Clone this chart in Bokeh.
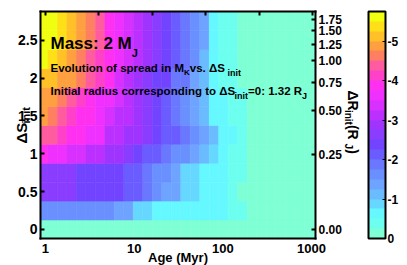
import numpy as np
from bokeh.plotting import figure
from bokeh.models import (ColumnDataSource, LinearColorMapper, ColorBar, FixedTicker,
                          LinearAxis, LogAxis, Label, BasicTickFormatter, Range1d)
from bokeh.transform import transform
from bokeh.embed import file_html
from bokeh.resources import INLINE

# ---------------- data ----------------
# age bin centres (Myr)
ages = [0.943, 1.206, 1.543, 1.975, 2.527, 3.233, 4.136, 5.29, 6.77, 8.66,
        11.08, 14.18, 18.14, 23.2, 29.7, 38.0, 48.6, 62.2, 79.5, 101.7,
        130.2, 166.5, 213.0, 273.0, 349.0, 446.0, 571.0, 730.0, 934.0, 1195.0]
# initial entropy offsets (rows)
ds_init = [0.0, 0.25, 0.5, 0.75, 1.0, 1.25, 1.5, 1.75, 2.0, 2.25, 2.5, 2.75]

s000 = [0, 0, 0, 0, 0, 0, 0, 0, 0, 0, 0, 0, 0, 0, 0, 0, 0, 0, 0, 0, 0, 0, 0, 0, 0, 0, 0, 0, 0, 0]
s025 = [-1.7, -1.7, -1.7, -1.7, -1.7, -1.55, -1.55, -1.55, -1.3, -1.3, -0.85, -0.85, -0.6, -0.6, -0.6,
        -0.6, -0.6, -0.6, -0.55, -0.5, -0.35, -0.3, -0.2, -0.1, -0.05, -0.05, -0.05, 0, 0, 0]
s050 = [-2.6, -2.6, -2.6, -2.55, -2.4, -2.4, -2.4, -2.35, -2.3, -2.1, -2.0, -1.8, -1.6, -1.45, -1.3,
        -0.9, -0.8, -0.65, -0.6, -0.55, -0.35, -0.2, -0.15, -0.1, -0.1, -0.05, -0.05, 0, 0, 0]
s075 = [-2.65, -2.65, -2.6, -2.55, -2.45, -2.4, -2.4, -2.35, -2.3, -2.15, -2.0, -1.85, -1.65, -1.5, -1.3,
        -0.95, -0.8, -0.7, -0.6, -0.55, -0.35, -0.25, -0.15, -0.1, -0.1, -0.05, -0.05, 0, 0, 0]
s100 = [-3.8, -3.7, -3.5, -3.35, -3.3, -3.1, -3.05, -2.9, -2.8, -2.5, -2.45, -2.2, -2.0, -1.85, -1.7,
        -1.5, -1.3, -1.1, -0.85, -0.65, -0.45, -0.3, -0.2, -0.1, -0.1, -0.05, -0.05, 0, 0, 0]
s125 = [-4.35, -4.35, -4.2, -3.85, -3.8, -3.55, -3.5, -3.2, -3.1, -2.9, -2.85, -2.6, -2.4, -2.2, -2.0,
        -1.8, -1.55, -1.3, -1.0, -0.7, -0.5, -0.3, -0.2, -0.1, -0.1, -0.05, -0.05, 0, 0, 0]
s150 = [-4.8, -4.6, -4.4, -4.2, -3.95, -3.8, -3.6, -3.4, -3.2, -3.0, -2.8, -2.55, -2.35, -2.15, -1.85,
        -1.65, -1.35, -1.05, -0.7, -0.55, -0.4, -0.3, -0.2, -0.1, -0.1, -0.05, -0.05, 0, 0, 0]
s175 = [-4.85, -4.75, -4.6, -4.4, -4.2, -3.9, -3.7, -3.5, -3.3, -3.1, -2.85, -2.6, -2.4, -2.2, -1.9,
        -1.7, -1.4, -1.1, -0.65, -0.55, -0.35, -0.25, -0.15, -0.1, -0.1, -0.05, -0.05, 0, 0, 0]
s200 = [-5.2, -5.1, -4.9, -4.8, -4.6, -4.35, -4.0, -3.75, -3.45, -3.2, -2.95, -2.7, -2.45, -2.25, -1.95,
        -1.75, -1.45, -1.15, -0.6, -0.45, -0.3, -0.2, -0.15, -0.1, -0.1, -0.05, -0.05, 0, 0, 0]
s225 = [-5.5, -5.4, -5.15, -4.9, -4.7, -4.45, -4.1, -3.8, -3.5, -3.25, -3.0, -2.8, -2.5, -2.3, -2.0,
        -1.8, -1.5, -1.2, -0.6, -0.4, -0.3, -0.2, -0.15, -0.1, -0.1, -0.05, -0.05, 0, 0, 0]
s250 = [-5.6, -5.5, -5.3, -5.0, -4.8, -4.5, -4.3, -3.85, -3.55, -3.3, -3.05, -2.85, -2.55, -2.35, -2.05,
        -1.85, -1.55, -1.25, -0.6, -0.4, -0.3, -0.2, -0.15, -0.1, -0.1, -0.05, -0.05, 0, 0, 0]
s275 = [-5.6, -5.6, -5.4, -5.1, -4.9, -4.6, -4.4, -3.9, -3.6, -3.4, -3.1, -2.9, -2.6, -2.4, -2.1,
        -1.9, -1.6, -1.3, -0.6, -0.4, -0.3, -0.2, -0.15, -0.1, -0.1, -0.05, -0.05, 0, 0, 0]
spread_rows = [s000, s025, s050, s075, s100, s125, s150, s175, s200, s225, s250, s275]

left_ticks = [0, 0.5, 1, 1.5, 2, 2.5]
left_labels = ["0", "0.5", "1", "1.5", "2", "2.5"]
age_ticks = [1, 10, 100, 1000]
age_labels = ["1", "10", "100", "1000"]
top_ticks = [1, 4, 16, 64, 256, 1024]
# right axis: Delta R_init (R_J) at the corresponding Delta S_init
dr_at_ds = [0.0, 0.99, 1.57, 1.94, 2.23, 2.45, 2.63, 2.77]
dr_labels = ["0.00", "0.25", "0.50", "0.75", "1.00", "1.25", "1.50", "1.75"]
cb_ticks = [0, 1, 2, 3, 4, 5]
cb_labels = ["0", "-1", "-2", "-3", "-4", "-5"]

palette = ["#7fffd4", "#6cfff0", "#66f8ff", "#66d8ff", "#6abcff", "#6ea4ff", "#6a90ff",
           "#6a78ff", "#6a5cff", "#7244ff", "#8a3cff", "#a034ff", "#bc30ff", "#d830ff",
           "#f030ff", "#ff30f0", "#ff40c8", "#ff5ca0", "#ff8060", "#ffa040", "#ffc028",
           "#ffe018", "#f0ff10"]

# ---------------- layout (pixels) ----------------
CW, CH = 407, 265
BOX_L, BOX_R, BOX_T, BOX_B = 40, 315, 11, 238
LOG_LO, LOG_HI = -0.056, 3.045
Y_LO, Y_HI = -0.12, 2.88
XS = (LOG_HI - LOG_LO) / (BOX_R - BOX_L)
YS = (Y_HI - Y_LO) / (BOX_B - BOX_T)
X_LO, X_HI = 10 ** LOG_LO, 10 ** LOG_HI

# ---------------- geometry from data ----------------
la = np.log10(ages)
mid = (la[:-1] + la[1:]) / 2
edges = np.concatenate([[la[0] - (mid[0] - la[0])], mid, [la[-1] + (la[-1] - mid[-1])]])
edges = np.clip(10 ** edges, X_LO, X_HI)
half = 0.125
L, R, B, T, M = [], [], [], [], []
for ds, row in zip(ds_init, spread_rows):
    for j, v in enumerate(row):
        L.append(edges[j]); R.append(edges[j + 1])
        B.append(max(ds - half, Y_LO)); T.append(min(ds + half, Y_HI))
        M.append(-v)
src = ColumnDataSource(dict(left=L, right=R, bottom=B, top=T, mag=M))

FONT = "Liberation Sans"

p = figure(width=CW, height=CH, x_axis_type="log",
           x_axis_location=None, y_axis_location=None,
           x_range=Range1d(10 ** (LOG_LO - BOX_L * XS), 10 ** (LOG_HI + (CW - BOX_R) * XS)),
           y_range=Range1d(Y_LO - (CH - BOX_B) * YS, Y_HI + BOX_T * YS),
           min_border=0, min_border_left=0, min_border_right=0,
           min_border_top=0, min_border_bottom=0,
           output_backend="svg", toolbar_location=None,
           background_fill_color="white", border_fill_color="white")
p.grid.visible = False
p.outline_line_color = None

mapper = LinearColorMapper(palette=palette, low=0, high=5.75)
p.quad(left="left", right="right", bottom="bottom", top="top", source=src,
       fill_color=transform("mag", mapper), line_color=transform("mag", mapper), line_width=0.6)

common = dict(axis_line_color="black", axis_line_width=2, axis_line_cap="square",
              minor_tick_line_color=None, major_tick_line_color="black",
              major_tick_line_width=2, major_tick_out=0,
              major_label_text_font=FONT, major_label_text_font_style="bold",
              major_label_text_color="black")

xa = LogAxis(ticker=FixedTicker(ticks=age_ticks), formatter=BasicTickFormatter(),
             major_label_overrides={t: l for t, l in zip(age_ticks, age_labels)},
             fixed_location=Y_LO, bounds=(X_LO, X_HI), major_tick_in=0,
             major_label_standoff=5, major_label_text_font_size="13px", **common)
xa.major_tick_line_color = None
p.add_layout(xa, "below")

ya = LinearAxis(ticker=FixedTicker(ticks=left_ticks),
                major_label_overrides={t: l for t, l in zip(left_ticks, left_labels)},
                fixed_location=X_LO, bounds=(Y_LO, Y_HI), major_tick_in=4,
                major_label_standoff=3, major_label_text_font_size="14px", **common)
p.add_layout(ya, "left")

ta = LogAxis(ticker=FixedTicker(ticks=top_ticks), fixed_location=Y_HI, bounds=(X_LO, X_HI),
             major_tick_in=4, major_label_standoff=0, major_label_text_font_size="13px", **common)
ta.major_label_text_color = None
p.add_layout(ta, "above")

ra = LinearAxis(ticker=FixedTicker(ticks=dr_at_ds),
                major_label_overrides={t: l for t, l in zip(dr_at_ds, dr_labels)},
                fixed_location=X_HI, bounds=(Y_LO, Y_HI), major_tick_in=4,
                major_label_standoff=3, major_label_text_font_size="12px", **common)
p.add_layout(ra, "right")

cb = ColorBar(color_mapper=mapper, ticker=FixedTicker(ticks=cb_ticks),
              major_label_overrides={t: l for t, l in zip(cb_ticks, cb_labels)},
              location=(368, CH - BOX_B), width=17, height=BOX_B - BOX_T,
              padding=0, margin=0, label_standoff=2,
              bar_line_color="black", bar_line_width=2,
              major_tick_line_color="black", major_tick_in=3, major_tick_out=0,
              minor_tick_line_color=None, border_line_color=None,
              background_fill_color=None,
              major_label_text_font=FONT, major_label_text_font_style="bold",
              major_label_text_font_size="12px", major_label_text_color="black")
p.add_layout(cb, "center")


# ---------------- annotations (positions in canvas pixels) ----------------
WID = {' ': 278, '(': 333, ')': 333, '.': 278, ':': 333, '=': 584, '-': 333,
       'A': 722, 'E': 667, 'I': 278, 'J': 556, 'K': 722, 'M': 833, 'R': 722, 'S': 667,
       'a': 556, 'c': 556, 'd': 611, 'e': 556, 'f': 333, 'g': 611, 'i': 278, 'l': 278,
       'n': 611, 'o': 611, 'p': 611, 'r': 389, 's': 556, 't': 333, 'u': 611, 'v': 556,
       'y': 556, 'Δ': 667}


def tw(s, size):
    return sum(WID.get(c, 556) for c in s) / 1000.0 * size


def dx(px):
    return 10 ** (LOG_LO + (px - BOX_L) * XS)


def dy(py):
    return Y_HI - (py - BOX_T) * YS


def put(text, px, py, size, angle=0.0, align="left"):
    p.add_layout(Label(x=dx(px), y=dy(py), text=text, text_font=FONT,
                       text_font_style="bold", text_font_size=f"{size}px",
                       text_color="black", angle=angle, text_align=align,
                       text_baseline="alphabetic"))


def line(pieces, px, py, direction=0):
    """pieces: (text, size, drop). direction 0: horizontal, +1: reads downward, -1: upward."""
    pos = px if direction == 0 else py
    for text, size, drop in pieces:
        if direction == 0:
            put(text, pos, py + drop, size)
        elif direction > 0:
            put(text, px - drop, pos, size, angle=-np.pi / 2)
        else:
            put(text, px + drop, pos, size, angle=np.pi / 2)
        pos += direction * tw(text, size) if direction else tw(text, size)


line([("Mass: 2 M", 17, 0), ("J", 11, 9)], 50, 43)
line([("Evolution of spread in M", 11.5, 0), ("K", 8, 5), (" vs. ΔS", 11.5, 0), ("init", 9, 5)], 50, 67)
line([("Initial radius corresponding to ΔS", 11.5, 0), ("init", 9, 5),
      ("=0: 1.32 R", 11.5, 0), ("J", 9, 5)], 50, 90)

# left title (reads upward)
line([("ΔS", 15, 0), ("init", 11, 4)], 21, 143, direction=-1)
# right title (reads downward)
line([("ΔR", 14, 0), ("init", 10, 4), (" (R", 14, 0), ("J", 10, 4), (")", 14, 0)], 352, 90, direction=1)

# x title
put("Age (Myr)", 177.5, 257, 13, align="center")

open("out.html", "w").write(file_html(p, INLINE))
